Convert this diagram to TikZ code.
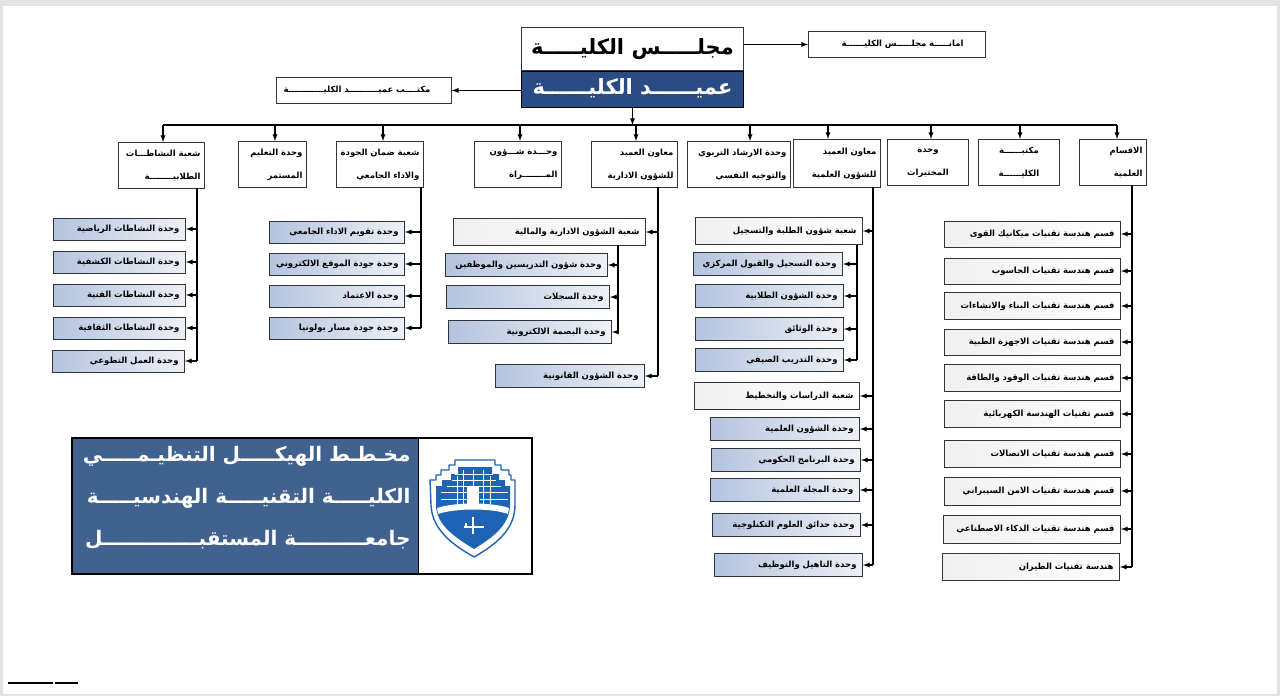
\documentclass[tikz,border=0pt]{standalone}
\usepackage{fontspec}
\usetikzlibrary{arrows,shadings}
\TeXXeTstate=1
\newfontfamily\arabicfont[Script=Arabic]{DejaVu Sans}
\newcommand{\ar}[1]{\beginR #1\endR}
\definecolor{deanblue}{HTML}{2A4B83}
\definecolor{titleblue}{HTML}{41628F}
\definecolor{unitblue}{HTML}{B4C4DF}
\definecolor{unitpale}{HTML}{EEF0F5}
\definecolor{edgegrey}{HTML}{30343C}
\definecolor{shieldblue}{HTML}{1F63B5}
\tikzset{
    box/.style={draw=edgegrey,line width=0.9pt,fill=white,inner xsep=6pt,inner ysep=0pt,align=right,font=\arabicfont\bfseries\fontsize{8.5}{10}\selectfont},
    oneline/.style={box,text height=6pt,text depth=1.5pt},
    unitbox/.style={oneline,left color=unitblue,right color=unitpale},
    palebox/.style={oneline,left color=gray!12,right color=white},
    headbox/.style={box,minimum height=46pt,inner xsep=4pt,font=\arabicfont\bfseries\fontsize{8.5}{23}\selectfont},
    topbox/.style={oneline,minimum height=26pt},
    bigbox/.style={box,anchor=north west,minimum width=222pt,align=center,text height=14pt,text depth=3pt,font=\arabicfont\bfseries\fontsize{21}{24}\selectfont},
    titleline/.style={anchor=east,text=white,font=\arabicfont\bfseries\fontsize{20}{24}\selectfont},
    link/.style={line width=1.5pt,black},
    tolink/.style={line width=1.3pt,black,-latex},
}
\begin{document}
\begin{tikzpicture}[x=1pt,y=-1pt]
    \useasboundingbox (0,0) rectangle (1280,696);
    % Page edge
    \fill[gray!22] (0,0) rectangle (1280,696);
    \fill[white] (3,6) rectangle (1277,694);
    \draw[black,line width=2pt] (8,682.5) -- (53,682.5);
    \draw[black,line width=2pt] (54.5,682.5) -- (78,682.5);

    % Council and dean
    \node[bigbox,minimum height=43pt] (council) at (521,27) {\ar{مجلـــــس الكليـــــة}};
    \node[bigbox,draw=black,fill=deanblue,text=white,minimum height=36pt] (dean) at (521,71) {\ar{عميــــــد الكليــــــة}};
    \node[topbox,anchor=north west,text width=165pt] (secretariat) at (808,31) {\ar{\kern16pt امانـــــة مجلـــــس الكليــــــة}};
    \node[topbox,anchor=north west,text width=163pt] (office) at (276,77) {\ar{\kern15pt مكتــــب عميــــــــــد الكليــــــــــــة}};
    \draw[tolink] (council.east |- secretariat.west) -- (secretariat.west);
    \draw[tolink] (dean.west |- office.east) -- (office.east);

    % Main bus
    \coordinate (busL) at (163,125);
    \coordinate (busR) at (1117,125);
    \draw[tolink] (dean.south) -- (dean.south |- busL);
    \draw[link] (busL) -- (busR);

    % Second row
    \node[headbox,anchor=north west,text width=78pt] (acts) at (118,142) {\ar{شعبة النشاطـــات}\\\ar{الطلابيــــــــة}};
    \node[headbox,anchor=north west,text width=60pt] (edu) at (238,141) {\ar{وحدة التعليم}\\\ar{المستمر}};
    \node[headbox,anchor=north west,text width=79pt] (quality) at (336,141) {\ar{شعبة ضمان الجودة}\\\ar{والاداء الجامعي}};
    \node[headbox,anchor=north west,text width=79pt] (women) at (474,141) {\ar{وحـــدة شـــؤون}\\\ar{المــــــــراة}};
    \node[headbox,anchor=north west,text width=78pt] (admin) at (591,141) {\ar{معاون العميد}\\\ar{للشؤون الادارية}};
    \node[headbox,anchor=north west,text width=95pt] (guide) at (687,141) {\ar{وحدة الارشاد التربوي}\\\ar{والتوجيه النفسي}};
    \node[headbox,anchor=north west,text width=79pt,minimum height=48pt] (sci) at (793,139) {\ar{معاون العميد}\\\ar{للشؤون العلمية}};
    \node[headbox,anchor=north west,text width=73pt,align=center] (labs) at (887,139) {\ar{وحدة}\\\ar{المختبرات}};
    \node[headbox,anchor=north west,text width=73pt,align=center] (library) at (978,139) {\ar{مكتبــــــة}\\\ar{الكليــــــة}};
    \node[headbox,anchor=north west,text width=59pt] (depts) at (1079,139) {\ar{الاقسام}\\\ar{العلمية}};

    \coordinate (stubEdu) at (275,125);
    \coordinate (stubQuality) at (383,125);
    \coordinate (stubWomen) at (520,125);
    \coordinate (stubAdmin) at (636,125);
    \coordinate (stubGuide) at (750,125);
    \coordinate (stubSci) at (828,125);
    \coordinate (stubLabs) at (931,125);
    \coordinate (stubLibrary) at (1020,125);
    \draw[tolink] (busL) -- (busL |- acts.north);
    \draw[tolink] (stubEdu) -- (stubEdu |- edu.north);
    \draw[tolink] (stubQuality) -- (stubQuality |- quality.north);
    \draw[tolink] (stubWomen) -- (stubWomen |- women.north);
    \draw[tolink] (stubAdmin) -- (stubAdmin |- admin.north);
    \draw[tolink] (stubGuide) -- (stubGuide |- guide.north);
    \draw[tolink] (stubSci) -- (stubSci |- sci.north);
    \draw[tolink] (stubLabs) -- (stubLabs |- labs.north);
    \draw[tolink] (stubLibrary) -- (stubLibrary |- library.north);
    \draw[tolink] (busR) -- (busR |- depts.north);

    % Student activities
    \node[unitbox,anchor=east,text width=120pt,minimum height=22pt] (acts1) at (186,229) {\ar{وحدة النشاطات الرياضية}};
    \node[unitbox,anchor=east,text width=120pt,minimum height=22pt] (acts2) at (186,262) {\ar{وحدة النشاطات الكشفية}};
    \node[unitbox,anchor=east,text width=120pt,minimum height=22pt] (acts3) at (186,295) {\ar{وحدة النشاطات الفنية}};
    \node[unitbox,anchor=east,text width=120pt,minimum height=22pt] (acts4) at (186,328) {\ar{وحدة النشاطات الثقافية}};
    \node[unitbox,anchor=east,text width=120pt,minimum height=22pt] (acts5) at (185,361) {\ar{وحدة العمل التطوعي}};
    \coordinate (trActs) at (197,188);
    \coordinate (trActsEnd) at (197,361);
    \draw[link] (trActs) -- (trActsEnd);
    \draw[tolink] (trActs |- acts1.east) -- (acts1.east);
    \draw[tolink] (trActs |- acts2.east) -- (acts2.east);
    \draw[tolink] (trActs |- acts3.east) -- (acts3.east);
    \draw[tolink] (trActs |- acts4.east) -- (acts4.east);
    \draw[tolink] (trActs |- acts5.east) -- (acts5.east);

    % Quality
    \node[unitbox,anchor=east,text width=123pt,minimum height=22pt] (qual1) at (405,232) {\ar{وحدة تقويم الاداء الجامعي}};
    \node[unitbox,anchor=east,text width=123pt,minimum height=22pt] (qual2) at (405,264) {\ar{وحدة جودة الموقع الالكتروني}};
    \node[unitbox,anchor=east,text width=123pt,minimum height=22pt] (qual3) at (405,296) {\ar{وحدة الاعتماد}};
    \node[unitbox,anchor=east,text width=123pt,minimum height=22pt] (qual4) at (405,328) {\ar{وحدة جودة مسار بولونيا}};
    \coordinate (trQual) at (421,187);
    \coordinate (trQualEnd) at (421,328);
    \draw[link] (trQual) -- (trQualEnd);
    \draw[tolink] (trQual |- qual1.east) -- (qual1.east);
    \draw[tolink] (trQual |- qual2.east) -- (qual2.east);
    \draw[tolink] (trQual |- qual3.east) -- (qual3.east);
    \draw[tolink] (trQual |- qual4.east) -- (qual4.east);

    % Administrative affairs
    \node[palebox,anchor=east,text width=180pt,minimum height=27pt] (hr) at (646,232) {\ar{شعبة الشؤون الادارية والمالية}};
    \node[unitbox,anchor=east,text width=150pt,minimum height=23pt] (hr1) at (608,265) {\ar{وحدة شؤون التدريسين والموظفين}};
    \node[unitbox,anchor=east,text width=151pt,minimum height=23pt] (hr2) at (610,297) {\ar{وحدة السجلات}};
    \node[unitbox,anchor=east,text width=151pt,minimum height=23pt] (hr3) at (612,332) {\ar{وحدة البصمة الالكترونية}};
    \node[unitbox,anchor=east,text width=137pt,minimum height=23pt] (legal) at (645,376) {\ar{وحدة الشؤون القانونية}};
    \coordinate (trAdmin) at (658,187);
    \coordinate (trAdminEnd) at (658,376);
    \coordinate (trHr) at (618,245);
    \coordinate (trHrEnd) at (618,332);
    \draw[link] (trAdmin) -- (trAdminEnd);
    \draw[link] (trHr) -- (trHrEnd);
    \draw[tolink] (trAdmin |- hr.east) -- (hr.east);
    \draw[tolink] (trAdmin |- legal.east) -- (legal.east);
    \draw[tolink] (trHr |- hr1.east) -- (hr1.east);
    \draw[tolink] (trHr |- hr2.east) -- (hr2.east);
    \draw[tolink] (trHr |- hr3.east) -- (hr3.east);

    % Scientific affairs
    \node[palebox,anchor=east,text width=155pt,minimum height=27pt] (reg) at (863,231) {\ar{شعبة شؤون الطلبة والتسجيل}};
    \node[unitbox,anchor=east,text width=137pt,minimum height=23pt] (reg1) at (843,264) {\ar{وحدة التسجيل والقبول المركزي}};
    \node[unitbox,anchor=east,text width=136pt,minimum height=23pt] (reg2) at (844,296) {\ar{وحدة الشؤون الطلابية}};
    \node[unitbox,anchor=east,text width=136pt,minimum height=23pt] (reg3) at (844,329) {\ar{وحدة الوثائق}};
    \node[unitbox,anchor=east,text width=136pt,minimum height=23pt] (reg4) at (844,360) {\ar{وحدة التدريب الصيفي}};
    \node[palebox,anchor=east,text width=153pt,minimum height=27pt] (plan) at (860,396) {\ar{شعبة الدراسات والتخطيط}};
    \node[unitbox,anchor=east,text width=137pt,minimum height=23pt] (plan1) at (860,429) {\ar{وحدة الشؤون العلمية}};
    \node[unitbox,anchor=east,text width=137pt,minimum height=23pt] (plan2) at (861,460) {\ar{وحدة البرنامج الحكومي}};
    \node[unitbox,anchor=east,text width=137pt,minimum height=23pt] (plan3) at (860,490) {\ar{وحدة المجلة العلمية}};
    \node[unitbox,anchor=east,text width=136pt,minimum height=23pt] (plan4) at (861,525) {\ar{وحدة حدائق العلوم التكنلوجية}};
    \node[unitbox,anchor=east,text width=136pt,minimum height=23pt] (plan5) at (863,565) {\ar{وحدة التاهيل والتوظيف}};
    \coordinate (trSci) at (873,187);
    \coordinate (trSciEnd) at (873,565);
    \coordinate (trReg) at (857,245);
    \coordinate (trRegEnd) at (857,360);
    \draw[link] (trSci) -- (trSciEnd);
    \draw[link] (trReg) -- (trRegEnd);
    \draw[tolink] (trSci |- reg.east) -- (reg.east);
    \draw[tolink] (trReg |- reg1.east) -- (reg1.east);
    \draw[tolink] (trReg |- reg2.east) -- (reg2.east);
    \draw[tolink] (trReg |- reg3.east) -- (reg3.east);
    \draw[tolink] (trReg |- reg4.east) -- (reg4.east);
    \draw[tolink] (trSci |- plan.east) -- (plan.east);
    \draw[tolink] (trSci |- plan1.east) -- (plan1.east);
    \draw[tolink] (trSci |- plan2.east) -- (plan2.east);
    \draw[tolink] (trSci |- plan3.east) -- (plan3.east);
    \draw[tolink] (trSci |- plan4.east) -- (plan4.east);
    \draw[tolink] (trSci |- plan5.east) -- (plan5.east);

    % Departments
    \node[palebox,anchor=east,text width=164pt,minimum height=26pt] (dep1) at (1121,234) {\ar{قسم هندسة تقنيات ميكانيك القوى}};
    \node[palebox,anchor=east,text width=164pt,minimum height=26pt] (dep2) at (1121,271) {\ar{قسم هندسة تقنيات الحاسوب}};
    \node[palebox,anchor=east,text width=164pt,minimum height=27pt] (dep3) at (1121,306) {\ar{قسم هندسة تقنيات البناء والانشاءات}};
    \node[palebox,anchor=east,text width=164pt,minimum height=26pt] (dep4) at (1121,342) {\ar{قسم هندسة تقنيات الاجهزة الطبية}};
    \node[palebox,anchor=east,text width=164pt,minimum height=27pt] (dep5) at (1121,378) {\ar{قسم هندسة تقنيات الوقود والطاقة}};
    \node[palebox,anchor=east,text width=164pt,minimum height=27pt] (dep6) at (1121,414) {\ar{قسم تقنيات الهندسة الكهربائية}};
    \node[palebox,anchor=east,text width=164pt,minimum height=27pt] (dep7) at (1121,454) {\ar{قسم هندسة تقنيات الاتصالات}};
    \node[palebox,anchor=east,text width=164pt,minimum height=28pt] (dep8) at (1121,491) {\ar{قسم هندسة تقنيات الامن السيبراني}};
    \node[palebox,anchor=east,text width=165pt,minimum height=28pt] (dep9) at (1121,529) {\ar{قسم هندسة تقنيات الذكاء الاصطناعي}};
    \node[palebox,anchor=east,text width=165pt,minimum height=27pt] (dep10) at (1120,567) {\ar{هندسة تقنيات الطيران}};
    \coordinate (trDep) at (1132,185);
    \coordinate (trDepEnd) at (1132,567);
    \draw[link] (trDep) -- (trDepEnd);
    \draw[tolink] (trDep |- dep1.east) -- (dep1.east);
    \draw[tolink] (trDep |- dep2.east) -- (dep2.east);
    \draw[tolink] (trDep |- dep3.east) -- (dep3.east);
    \draw[tolink] (trDep |- dep4.east) -- (dep4.east);
    \draw[tolink] (trDep |- dep5.east) -- (dep5.east);
    \draw[tolink] (trDep |- dep6.east) -- (dep6.east);
    \draw[tolink] (trDep |- dep7.east) -- (dep7.east);
    \draw[tolink] (trDep |- dep8.east) -- (dep8.east);
    \draw[tolink] (trDep |- dep9.east) -- (dep9.east);
    \draw[tolink] (trDep |- dep10.east) -- (dep10.east);

    % Title block
    \draw[black,line width=1.5pt,fill=white] (72,438) rectangle (532,574);
    \fill[titleblue] (72.7,438.7) rectangle (418,573.3);
    \draw[black,line width=1pt] (418,438) -- (418,574);
    \node[titleline] (title1) at (414,456) {\ar{مخـطـط الهيكـــــل التنظيـمـــــي}};
    \node[titleline] (title2) at (414,498) {\ar{الكليـــــة التقنيـــــة الهندسيـــــة}};
    \node[titleline] (title3) at (414,540) {\ar{جامعــــــــــة المستقبــــــــــــــل}};

    % Logo
    \draw[shieldblue,line width=1.4pt,fill=white,line join=round] (430,480) -- (436,480) -- (436,475) -- (441,475) -- (441,470) -- (449,470) -- (449,465) -- (455,465) -- (455,460) -- (495,460) -- (495,465) -- (501,465) -- (501,470) -- (509,470) -- (509,475) -- (511,475) -- (511,480) -- (515,480) -- (515,505) .. controls (515,530) and (495,545) .. (474,557) .. controls (453,545) and (432,530) .. (431,505) -- cycle;
    \fill[shieldblue] (436,486) -- (442,486) -- (442,480) -- (451,480) -- (451,474) -- (458,474) -- (458,467) -- (492,467) -- (492,474) -- (499,474) -- (499,480) -- (505,480) -- (505,486) -- (510,486) -- (510,505) .. controls (510,525) and (492,538) .. (474,549) .. controls (456,538) and (436,525) .. (436,505) -- cycle;
    \draw[white,line width=0.8pt] (455,474) -- (493,474) (452,480) -- (496,480) (447,486) -- (501,486) (441,492) -- (508,492) (441,499) -- (467,499) (480,499) -- (508,499) (463,470) -- (463,504) (473,470) -- (473,504) (483,470) -- (483,504) (457,476) -- (457,504) (490,476) -- (490,504);
    \fill[white] (467,486) rectangle (479,508);
    \fill[white] (437,508) .. controls (455,502) and (492,502) .. (509,508) -- (508,514) .. controls (492,508) and (455,508) .. (438,514) -- cycle;
    \draw[white,line width=1.6pt] (473,517) -- (473,534) (464,527) -- (484,527) (466,523) -- (466,527);
\end{tikzpicture}
\end{document}
